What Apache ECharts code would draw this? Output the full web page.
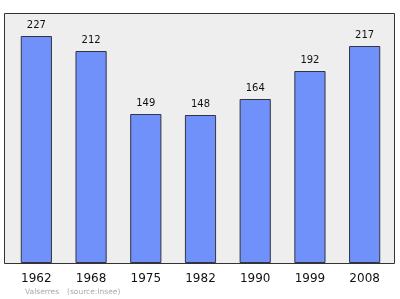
<!DOCTYPE html>
<html><head><meta charset="utf-8">
<script src="https://cdn.jsdelivr.net/npm/echarts@6/dist/echarts.min.js"></script>
<style>html,body{margin:0;padding:0;background:#fff}#c{width:400px;height:299px}</style>
</head><body><div id="c"></div>
<script>
var categories = ['1962','1968','1975','1982','1990','1999','2008'];
var population = [227, 212, 149, 148, 164, 192, 217];
var chart = echarts.init(document.getElementById('c'), null, {renderer:'canvas'});
chart.setOption({
  animation:false,
  backgroundColor:'#ffffff',
  grid:{left:9,right:8,top:13,bottom:36,show:false},
  xAxis:{type:'category',data:categories,
    axisLine:{show:false},axisTick:{show:false},
    axisLabel:{color:'#111',fontSize:12,fontFamily:'DejaVu Sans',margin:10}},
  yAxis:{type:'value',min:0,max:250,show:false,splitLine:{show:false}},
  series:[{type:'bar',data:population,barWidth:'57%',z:5,
    itemStyle:{color:'#6f91f9',borderColor:'#334',borderWidth:1},
    label:{show:true,position:'top',distance:6,color:'#111',fontSize:10,fontFamily:'DejaVu Sans'}}],
  graphic:[
    {type:'rect',z:0,shape:{x:4.5,y:13.5,width:390,height:250},style:{fill:'#eeeeee',stroke:'#333333',lineWidth:1}},
    {type:'text',left:25,top:288,style:{text:'Valserres',fill:'#aaa',fontSize:7.5,fontFamily:'DejaVu Sans'}},
    {type:'text',left:67,top:288,style:{text:'(source:Insee)',fill:'#aaa',fontSize:7.5,fontFamily:'DejaVu Sans'}}
  ]
});
</script></body></html>
